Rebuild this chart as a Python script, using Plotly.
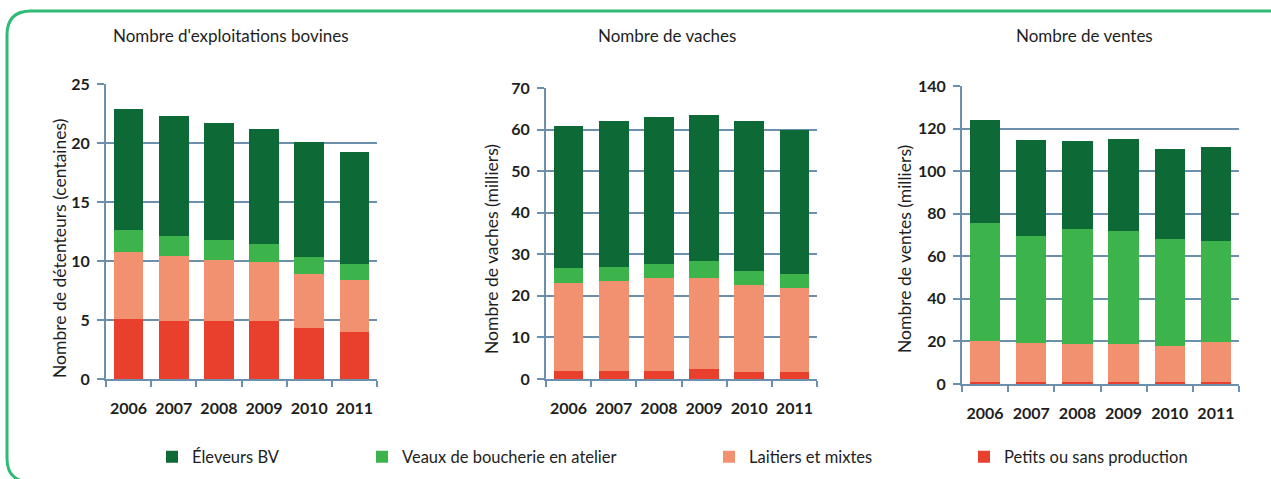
import plotly.graph_objects as go

years = ["2006", "2007", "2008", "2009", "2010", "2011"]
series_names = ["Éleveurs BV", "Veaux de boucherie en atelier", "Laitiers et mixtes", "Petits ou sans production"]
colors = ["#0d6a37", "#3cb44b", "#f1916f", "#e9402e"]

# Chart 1: Nombre d'exploitations bovines (centaines)
expl_eleveurs = [10.3, 10.1, 9.95, 9.8, 9.75, 9.5]
expl_veaux = [1.85, 1.7, 1.65, 1.5, 1.4, 1.4]
expl_laitiers = [5.7, 5.5, 5.15, 4.95, 4.6, 4.35]
expl_petits = [5.05, 4.95, 4.95, 4.95, 4.3, 4.0]

# Chart 2: Nombre de vaches (milliers)
vaches_eleveurs = [34.0, 35.1, 35.3, 35.2, 36.1, 34.7]
vaches_veaux = [3.8, 3.4, 3.5, 4.0, 3.5, 3.5]
vaches_laitiers = [21.0, 21.6, 22.2, 22.1, 20.9, 20.2]
vaches_petits = [2.0, 2.0, 2.0, 2.3, 1.6, 1.6]

# Chart 3: Nombre de ventes (milliers)
ventes_eleveurs = [48.5, 45.1, 41.3, 43.2, 42.1, 43.9]
ventes_veaux = [55.2, 50.4, 54.1, 53.2, 50.5, 47.7]
ventes_laitiers = [19.3, 18.2, 17.7, 17.9, 17.0, 18.8]
ventes_petits = [1.0, 0.9, 0.9, 0.9, 0.8, 0.8]

titles = ["Nombre d'exploitations bovines", "Nombre de vaches", "Nombre de ventes"]
ytitles = ["Nombre de détenteurs (centaines)", "Nombre de vaches (milliers)", "Nombre de ventes (milliers)"]
yranges = [25, 70, 140]
ydtick = [5, 10, 20]

charts = [
    [expl_petits, expl_laitiers, expl_veaux, expl_eleveurs],
    [vaches_petits, vaches_laitiers, vaches_veaux, vaches_eleveurs],
    [ventes_petits, ventes_laitiers, ventes_veaux, ventes_eleveurs],
]

W, H = 1271, 479
def px(x):
    return x / W
def py(y):
    return 1 - y / H

# plot area pixel boxes (left, right, top, bottom)
boxes = [(106, 377, 84, 379), (546, 817, 88, 379), (962, 1239, 86, 384)]
title_x = [231, 667, 1084]
ytitle_x = [60, 492, 905]

grid_color = "#6b8fad"
text_color = "#1e1e1e"
font_family = "Lato, 'Open Sans', sans-serif"

fig = go.Figure()
legend_ids = ["legend", "legend2", "legend3", "legend4"]
order = [3, 2, 1, 0]  # stacked order bottom->top: petits, laitiers, veaux, eleveurs

for ci, data in enumerate(charts):
    xa = "x" if ci == 0 else f"x{ci+1}"
    ya = "y" if ci == 0 else f"y{ci+1}"
    for si in range(4):
        name_idx = order[si]
        fig.add_trace(go.Bar(
            x=years, y=data[si], name=series_names[name_idx],
            marker=dict(color=colors[name_idx], line=dict(width=0)),
            xaxis=xa, yaxis=ya,
            showlegend=(ci == 0),
            legend=legend_ids[name_idx],
            legendgroup=series_names[name_idx],
        ))

layout = dict(
    width=W, height=H,
    margin=dict(l=0, r=0, t=0, b=0, autoexpand=False),
    paper_bgcolor="white", plot_bgcolor="white",
    barmode="stack", bargap=0.34,
    font=dict(family=font_family, color=text_color),
)

for ci in range(3):
    l, r, t, b = boxes[ci]
    xk = "xaxis" if ci == 0 else f"xaxis{ci+1}"
    yk = "yaxis" if ci == 0 else f"yaxis{ci+1}"
    ya = "y" if ci == 0 else f"y{ci+1}"
    xa = "x" if ci == 0 else f"x{ci+1}"
    layout[xk] = dict(
        domain=[px(l), px(r)], anchor=ya, type="category",
        range=[-0.5, 5.5], showline=True, linecolor=grid_color, linewidth=2,
        ticks="outside", tickson="boundaries", ticklen=6, tickwidth=2, tickcolor=grid_color,
        showgrid=False, ticklabelstandoff=14, tickangle=0, automargin=False,
        tickfont=dict(size=16, family=font_family, color=text_color, weight="bold"),
    )
    layout[yk] = dict(
        domain=[py(b), py(t)], anchor=xa,
        range=[0, yranges[ci]], dtick=ydtick[ci], tick0=0,
        showline=True, linecolor=grid_color, linewidth=2,
        showgrid=True, gridcolor=grid_color, gridwidth=2,
        ticks="outside", ticklen=7, tickwidth=2, tickcolor=grid_color,
        zeroline=False, ticklabelstandoff=4, automargin=False,
        tickfont=dict(size=16, family=font_family, color=text_color, weight="bold"),
    )

legend_x = [152, 362, 709, 964]
for i, lid in enumerate(legend_ids):
    layout[lid] = dict(
        x=px(legend_x[i]), y=py(457), xanchor="left", yanchor="middle",
        orientation="h", bgcolor="rgba(0,0,0,0)",
        font=dict(size=16.5, family=font_family, color=text_color),
    )

fig.update_layout(**layout)

for ci in range(3):
    fig.add_annotation(
        x=px(title_x[ci]), y=py(36), xref="paper", yref="paper",
        text=titles[ci], showarrow=False, xanchor="center", yanchor="middle",
        font=dict(size=17, family=font_family, color=text_color),
    )
    fig.add_annotation(
        x=px(ytitle_x[ci]), y=py(249), xref="paper", yref="paper",
        text=ytitles[ci], showarrow=False, textangle=-90,
        xanchor="center", yanchor="middle",
        font=dict(size=17.5, family=font_family, color=text_color),
    )

# rounded frame
path = (f"M {px(1290)},{py(11)} L {px(31)},{py(11)} Q {px(7)},{py(11)} {px(7)},{py(35)} "
        f"L {px(7)},{py(458)} Q {px(7)},{py(482)} {px(31)},{py(482)}")
fig.add_shape(type="path", path=path, xref="paper", yref="paper",
              line=dict(color="#2fba76", width=3), layer="above")

fig.write_html("out.html", post_script="document.body.style.margin='0';",
               config={"displayModeBar": False})
